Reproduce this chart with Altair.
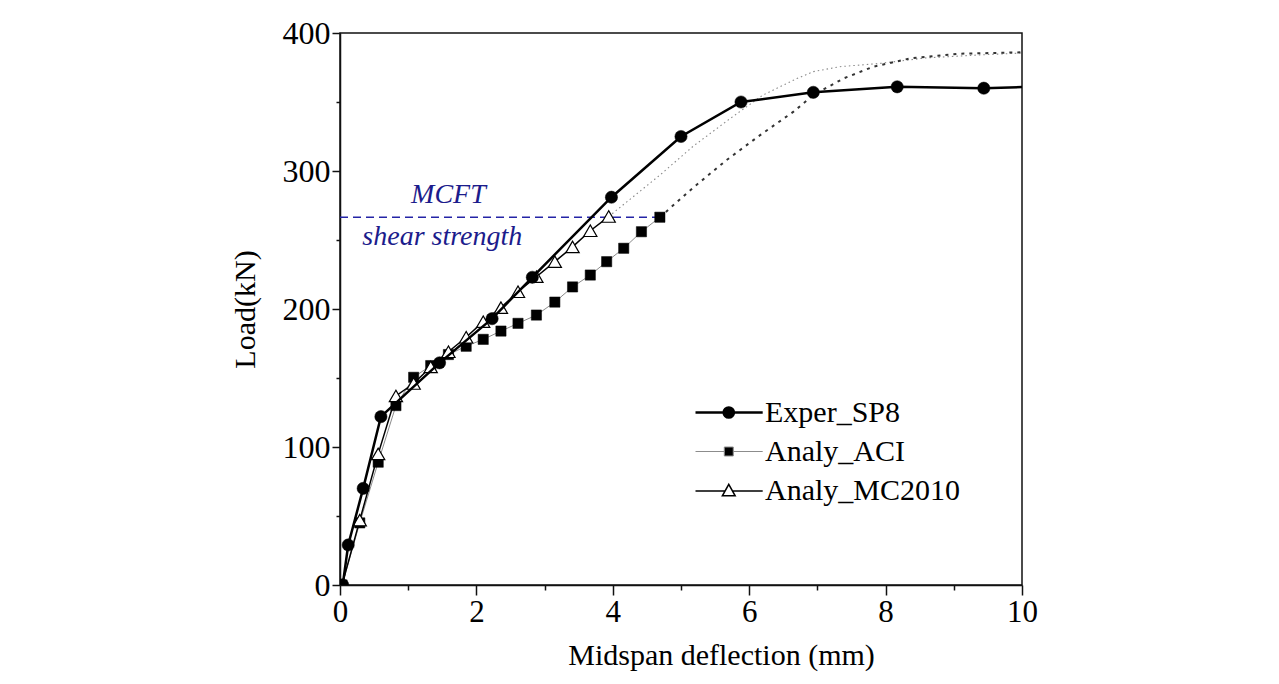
import altair as alt
import pandas as pd

FONT = "Liberation Serif"

series_names = ["Exper_SP8", "Analy_ACI", "Analy_MC2010"]

# Experimental curve (filled circles)
exper_x = [0.04, 0.12, 0.34, 0.60, 1.46, 2.23, 2.82, 3.98, 5.00, 5.88, 6.94, 8.17, 9.44, 10.5]
exper_y = [0, 29, 70, 122, 161, 193, 223, 281, 325, 350, 357, 361, 360, 361.5]

# ACI analysis (filled squares) up to the MCFT shear strength
aci_x = [0.03, 0.29, 0.56, 0.82, 1.08, 1.33, 1.59, 1.85, 2.10, 2.36, 2.61, 2.88, 3.15, 3.41, 3.67, 3.91, 4.16, 4.42, 4.69]
aci_y = [0, 45, 89, 130, 150.5, 159, 167, 173, 178, 184, 189.6, 195.6, 205, 216, 224.6, 234.3, 244, 256, 266.5]

# ACI analysis beyond the shear strength (dashed)
aci_ext_x = [4.69, 5.18, 5.67, 6.16, 6.65, 6.94, 7.38, 7.82, 8.36, 9.09, 10.0]
aci_ext_y = [266.5, 288, 308, 326, 343, 355, 367, 375.6, 381.6, 385, 386]

# MC2010 analysis (open triangles) up to the MCFT shear strength
mc_x = [0.03, 0.29, 0.56, 0.82, 1.08, 1.33, 1.59, 1.85, 2.10, 2.36, 2.61, 2.88, 3.15, 3.41, 3.67, 3.94]
mc_y = [0, 47, 95, 137, 146, 158, 169, 179.5, 190.8, 201, 212.5, 223.4, 234.3, 245, 256.7, 267]

# MC2010 analysis beyond the shear strength (dotted)
mc_ext_x = [3.94, 4.69, 5.18, 5.72, 6.2, 6.7, 6.94, 7.33, 7.92, 8.6, 9.33, 10.0]
mc_ext_y = [267, 297, 318, 338, 355, 367, 372, 375.6, 378, 382, 384, 385.5]

# MCFT shear strength line and its labels
mcft_x = [0.0, 4.62]
mcft_y = [266.5, 266.5]
note_text = ["MCFT", "shear strength"]
note_x = [1.59, 1.50]
note_y = [282.5, 252]

x_major = [0, 2, 4, 6, 8, 10]
x_minor = [1, 3, 5, 7, 9]
y_major = [0, 100, 200, 300, 400]
y_minor = [50, 150, 250, 350]

X_SCALE = alt.Scale(domain=[0, 10], nice=False, zero=False)
Y_SCALE = alt.Scale(domain=[0, 400], nice=False, zero=False)
AX = "#111111"


def df(xs, ys):
    return pd.DataFrame({"x": xs, "y": ys})


def enc(xaxis=None, yaxis=None):
    return dict(
        x=alt.X("x:Q", scale=X_SCALE, axis=xaxis),
        y=alt.Y("y:Q", scale=Y_SCALE, axis=yaxis),
    )


ax_x_major = alt.Axis(
    orient="bottom", values=x_major, format="d", tickSize=10, tickWidth=1.5, tickColor=AX,
    domainColor=AX, domainWidth=1.5, labelFont=FONT, labelFontSize=31, labelColor="black",
    labelPadding=2, labelFlush=False, labelOverlap=False, grid=False,
    title="Midspan deflection (mm)", titleFont=FONT, titleFontSize=30, titleFontWeight="normal",
    titleColor="black", titleX=381, titleY=70, titleAlign="center", titleBaseline="middle",
)
ax_y_major = alt.Axis(
    orient="left", values=y_major, format="d", tickSize=8, tickWidth=1.5, tickColor=AX,
    domainColor=AX, domainWidth=1.5, labelFont=FONT, labelFontSize=32, labelColor="black",
    labelPadding=2, labelFlush=False, labelOverlap=False, grid=False,
    title="Load(kN)", titleFont=FONT, titleFontSize=30, titleFontWeight="normal",
    titleColor="black", titleX=-95, titleY=276, titleAlign="center", titleBaseline="middle",
    titleAngle=270,
)
ax_x_minor = alt.Axis(
    orient="bottom", values=x_minor, tickSize=5, tickWidth=1.5, tickColor=AX,
    labels=False, domain=False, grid=False, title=None,
)
ax_y_minor = alt.Axis(
    orient="left", values=y_minor, tickSize=4, tickWidth=1.5, tickColor=AX,
    labels=False, domain=False, grid=False, title=None,
)

BLUE = "#2424a6"

mcft_line = alt.Chart(df(mcft_x, mcft_y)).mark_line(
    color=BLUE, strokeWidth=1.6, strokeDash=[8, 5]
).encode(**enc(ax_x_minor, ax_y_minor))

notes = alt.Chart(pd.DataFrame({"x": note_x, "y": note_y, "t": note_text})).mark_text(
    font=FONT, fontSize=28, fontStyle="italic", color="#1c1c8c", align="center", baseline="middle"
).encode(text="t:N", **enc())

mc_ext = alt.Chart(df(mc_ext_x, mc_ext_y)).mark_line(
    color="#8a8a8a", strokeWidth=1.1, strokeDash=[1.5, 3], clip=True
).encode(**enc())

aci_ext = alt.Chart(df(aci_ext_x, aci_ext_y)).mark_line(
    color="#333333", strokeWidth=2, strokeDash=[3, 5], clip=True
).encode(**enc())

aci_line = alt.Chart(df(aci_x, aci_y)).mark_line(
    color="#8c8c8c", strokeWidth=1, clip=True
).encode(**enc())
aci_pts = alt.Chart(df(aci_x, aci_y)).mark_point(
    shape="square", filled=True, fill="black", stroke="black", strokeWidth=0.5,
    size=105, opacity=1, clip=True
).encode(**enc())

mc_line = alt.Chart(df(mc_x, mc_y)).mark_line(
    color="black", strokeWidth=1.5, clip=True
).encode(**enc())
mc_pts = alt.Chart(df(mc_x, mc_y)).mark_point(
    shape="triangle-up", fill="white", stroke="black", strokeWidth=1.2,
    size=175, opacity=1, fillOpacity=1, clip=True
).encode(**enc())

exper_line = alt.Chart(df(exper_x, exper_y)).mark_line(
    color="black", strokeWidth=2.5, clip=True
).encode(**enc(ax_x_major, ax_y_major))
exper_pts = alt.Chart(df(exper_x, exper_y)).mark_point(
    shape="circle", filled=True, fill="black", stroke="black", strokeWidth=0.5,
    size=150, opacity=1, clip=True
).encode(**enc())

# legend symbols: line segment with a marker in the middle
legend_paths = [
    "M-3,0H1.2M-0.6,0A0.32,0.32 0 1,1 -1.24,0A0.32,0.32 0 1,1 -0.6,0Z",
    "M-3,0H-1.2M-0.64,0H1.2M-1.2,-0.28H-0.64V0.28H-1.2Z",
    "M-3,0H-1.16M-0.68,0H1.2M-0.92,-0.42L-0.52,0.3H-1.32Z",
]
legend_fill = ["black", "black", "white"]
legend_stroke = ["black", "#8c8c8c", "black"]
legend_width = [2.5, 1, 1.5]


def lg():
    return alt.Legend(
        title=None, orient="none", legendX=386, legendY=362, padding=0, offset=0,
        symbolSize=1024, symbolOpacity=1, labelFont=FONT, labelFontSize=30,
        labelColor="black", labelOffset=4, rowPadding=7, labelLimit=400,
        labelExpr="datum.label == 'Analy_MC2010' ? datum.label : '\u00a0' + datum.label",
    )


legend_layer = alt.Chart(pd.DataFrame({"series": series_names})).mark_point(size=0).encode(
    shape=alt.Shape("series:N", scale=alt.Scale(domain=series_names, range=legend_paths), legend=lg()),
    fill=alt.Fill("series:N", scale=alt.Scale(domain=series_names, range=legend_fill), legend=lg()),
    stroke=alt.Stroke("series:N", scale=alt.Scale(domain=series_names, range=legend_stroke), legend=lg()),
    strokeWidth=alt.StrokeWidth(
        "series:N", scale=alt.Scale(type="ordinal", domain=series_names, range=legend_width), legend=lg()
    ),
)

chart = alt.layer(
    mcft_line, notes, mc_ext, aci_ext, aci_line, aci_pts, mc_line, mc_pts,
    exper_line, exper_pts, legend_layer,
).resolve_axis(
    x="independent", y="independent"
).properties(
    width=682, height=552,
    autosize=alt.AutoSizeParams(type="none"),
    padding={"left": 332, "top": 25, "right": 60, "bottom": 90},
    background="white",
).configure_view(
    stroke=AX, strokeWidth=1.5
)

chart.save("out.html", embed_options={"renderer": "svg", "actions": False})
